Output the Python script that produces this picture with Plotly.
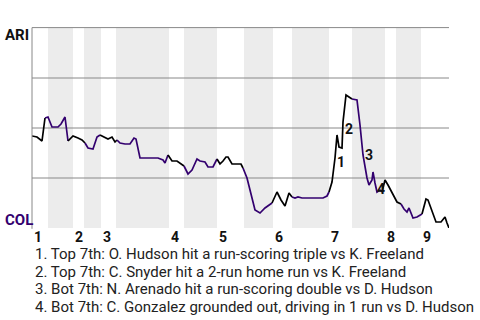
import plotly.graph_objects as go

# Game progress (x) and ARI win probability % (y), per half inning
half_x = [
    [0, 5, 10, 13],
    [16, 20, 26, 29, 33, 36],
    [41, 46, 50, 53],
    [56, 61, 65, 68],
    [72, 76, 80, 83, 85],
    [88, 93, 98, 102, 104, 108, 126, 131, 133, 136],
    [140, 145, 148, 152],
    [156, 160, 165, 168, 173, 176, 181, 185],
    [188, 191, 194, 196, 200, 209, 211],
    [215, 218, 223, 228, 233, 240],
    [245, 249, 253, 257, 260],
    [263, 266, 270, 291, 295, 297],
    [300, 303, 305, 307, 310, 311, 314, 320],
    [325, 328, 331, 335, 337, 340, 341, 343, 345, 348, 350],
    [353, 356, 360, 365, 369],
    [372, 375, 377, 381, 385, 390],
    [394, 396, 400, 404, 409, 413, 415, 417],
]
half_wp = [
    [46, 45.5, 43.5, 55],
    [55.5, 50.5, 50.5, 52, 55.5, 43.5],
    [46, 45, 44, 42.5],
    [40, 39.5, 45.5, 46.5],
    [45.5, 44.5, 45.5, 43, 44],
    [42.5, 42, 42, 45, 44.5, 35, 35, 34, 32.5, 36.5],
    [33.5, 33.5, 32.5, 31],
    [27, 29, 34.5, 33.5, 33, 30.5, 30.5, 34.5],
    [32, 33.5, 35.5, 35.5, 32, 32, 30],
    [25, 19, 9, 7.5, 10, 12.5],
    [18, 14, 11, 17.5, 15.5],
    [15, 15.5, 15, 15, 16, 18],
    [23, 35, 46.5, 40.5, 40, 53, 66.5, 64.5],
    [64, 51.5, 36.5, 25, 21.5, 24, 28, 22.5, 18, 19, 18],
    [24, 21.5, 17.5, 13, 12],
    [9.5, 8, 10, 5, 5.5, 7],
    [14.5, 14, 8.5, 3, 3, 5.5, 2.5, 0],
]
half_bounds = [0, 16, 41, 52, 69, 84, 137, 152, 185, 212, 241, 260, 297, 320, 353, 364, 389, 417]
inning_labels = ["1", "2", "3", "4", "5", "6", "7", "8", "9"]
grid_values = [25, 50, 75]

event_labels = ["1", "2", "3", "4"]
event_x = [309, 317, 337, 349]
event_y = [33, 49.5, 36.5, 19.5]
event_text = [
    "1. Top 7th: O. Hudson hit a run-scoring triple vs K. Freeland",
    "2. Top 7th: C. Snyder hit a 2-run home run vs K. Freeland",
    "3. Bot 7th: N. Arenado hit a run-scoring double vs D. Hudson",
    "4. Bot 7th: C. Gonzalez grounded out, driving in 1 run vs D. Hudson",
]

PURPLE = "#33006F"
FONT = "Roboto"

fig = go.Figure()
for i, (xs, ys) in enumerate(zip(half_x, half_wp)):
    if i > 0:
        xs = [half_x[i - 1][-1]] + xs
        ys = [half_wp[i - 1][-1]] + ys
    fig.add_trace(go.Scatter(
        x=xs, y=ys, mode="lines",
        line=dict(color="#000000" if i % 2 == 0 else PURPLE, width=1.7),
        hoverinfo="skip", showlegend=False,
    ))

shapes = []
for i in range(1, len(half_bounds) - 1, 2):
    shapes.append(dict(type="rect", xref="x", yref="y", x0=half_bounds[i], x1=half_bounds[i + 1],
                       y0=0, y1=100, fillcolor="#ececec", line=dict(width=0), layer="below"))
for gv in grid_values:
    shapes.append(dict(type="line", xref="x", yref="y", x0=0, x1=417, y0=gv, y1=gv,
                       line=dict(color="#888888", width=1), layer="between"))
shapes.append(dict(type="line", xref="paper", yref="paper", x0=0, x1=1, y0=1.002, y1=1.002,
                   line=dict(color="#888888", width=1)))
shapes.append(dict(type="line", xref="paper", yref="paper", x0=0, x1=0, y0=-0.004, y1=1.002,
                   line=dict(color="#888888", width=1)))

annotations = []
for k, lab in enumerate(inning_labels):
    annotations.append(dict(x=half_bounds[2 * k], y=-0.045, xref="x", yref="paper", text="<b>%s</b>" % lab,
                            showarrow=False, xanchor="left", yanchor="middle",
                            font=dict(family=FONT, size=14, color="#111")))
for lab, ex, ey in zip(event_labels, event_x, event_y):
    annotations.append(dict(x=ex, y=ey, xref="x", yref="y", text="<b>%s</b>" % lab, showarrow=False,
                            xanchor="center", yanchor="middle", font=dict(family=FONT, size=14, color="#111")))
for k, t in enumerate(event_text):
    annotations.append(dict(x=0.0024, y=-0.13 - 0.0875 * k, xref="paper", yref="paper", text=t,
                            showarrow=False, xanchor="left", yanchor="middle",
                            font=dict(family=FONT, size=15, color="#222")))
annotations.append(dict(x=-0.0695, y=0.965, xref="paper", yref="paper", text="<b>ARI</b>", showarrow=False,
                        xanchor="left", yanchor="middle", font=dict(family=FONT, size=15, color="#111")))
annotations.append(dict(x=-0.0695, y=0.04, xref="paper", yref="paper", text="<b>COL</b>", showarrow=False,
                        xanchor="left", yanchor="middle", font=dict(family=FONT, size=15, color=PURPLE)))

fig.update_layout(
    width=480, height=320,
    margin=dict(l=32, r=31, t=28, b=92),
    paper_bgcolor="white", plot_bgcolor="white",
    xaxis=dict(range=[0, 417], showgrid=False, zeroline=False, showticklabels=False, ticks="", fixedrange=True),
    yaxis=dict(range=[0, 100], showgrid=False, zeroline=False, showticklabels=False, ticks="", fixedrange=True),
    shapes=shapes, annotations=annotations,
    showlegend=False,
)
fig.write_html("out.html", config={"displayModeBar": False})
